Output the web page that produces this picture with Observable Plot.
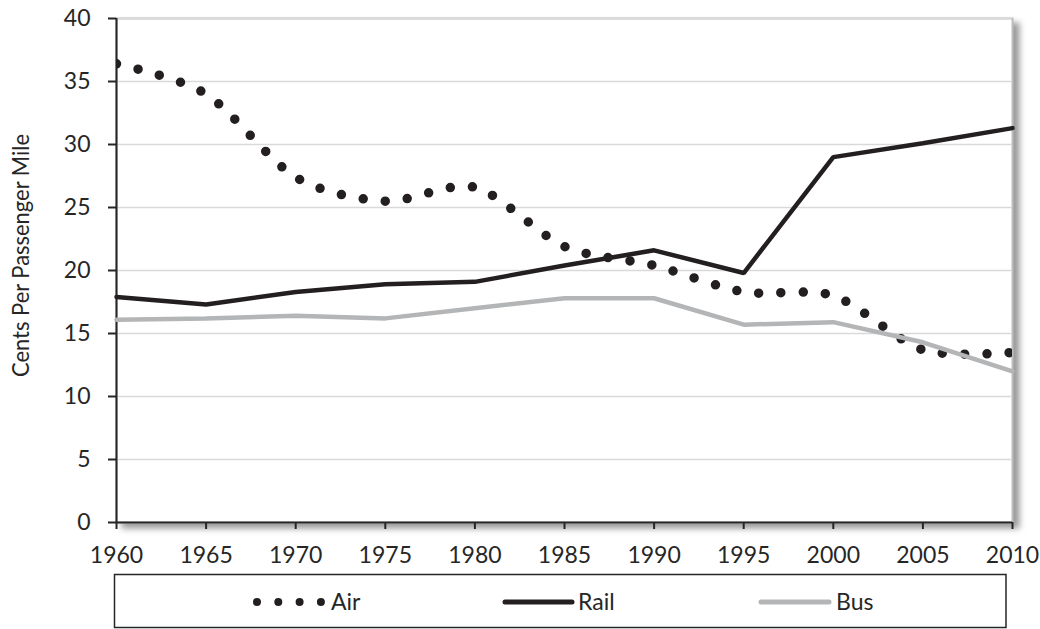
<!DOCTYPE html>
<html>
<head>
<meta charset="utf-8">
<script src="https://cdn.jsdelivr.net/npm/d3@7"></script>
<script src="https://cdn.jsdelivr.net/npm/@observablehq/plot@0.6"></script>
<style>
  body { margin: 0; background: #fff; font-family: Lato, "Open Sans", sans-serif; }
  #chart { width: 1040px; height: 629px; }
  #chart svg { display: block; }
</style>
</head>
<body>
<div id="chart"></div>
<script>
// Average cost per passenger mile (cents), by mode
const years = [1960, 1965, 1970, 1975, 1980, 1985, 1990, 1995, 2000, 2005, 2010];
const air   = [36.4, 34.0, 27.4, 25.5, 26.6, 21.9, 20.4, 18.3, 18.0, 13.7, 13.5];
const rail  = [17.9, 17.3, 18.3, 18.9, 19.1, 20.4, 21.6, 19.8, 29.0, 30.1, 31.3];
const bus   = [16.1, 16.2, 16.4, 16.2, 17.0, 17.8, 17.8, 15.7, 15.9, 14.3, 12.0];

const yTicks = [0, 5, 10, 15, 20, 25, 30, 35, 40];
const xTicks = years;
const seriesNames = ["Air", "Rail", "Bus"];
const yTitle = "Cents Per Passenger Mile";

const ink = "#231f20";
const busGray = "#b4b5b7";
const axisInk = "#262626";

const toRows = (vals) => years.map((year, i) => ({year, value: vals[i]}));
const airRows = toRows(air);
const railRows = toRows(rail);
const busRows = toRows(bus);

const plot = Plot.plot({
  width: 1040,
  height: 572,
  marginLeft: 116,
  marginRight: 28,
  marginTop: 18,
  marginBottom: 50,
  style: {fontFamily: "Lato, sans-serif", fontSize: "23px", color: axisInk, background: "transparent", overflow: "visible"},
  x: {domain: [1960, 2010]},
  y: {domain: [0, 40]},
  marks: [
    Plot.frame({fill: "white", stroke: "#bdbdbd", strokeWidth: 2}),
    Plot.gridY(yTicks, {stroke: "#d9d9d9", strokeOpacity: 1, strokeWidth: 1.5}),
    Plot.axisY(yTicks, {
      tickSize: 8, tickPadding: 18, strokeWidth: 2, stroke: axisInk,
      label: null, tickFormat: d => String(d)
    }),
    Plot.axisX(xTicks, {tickSize: 7, tickPadding: 17, strokeWidth: 2, stroke: axisInk, tickFormat: d => String(d), label: null}),
    Plot.ruleX([1960], {stroke: axisInk, strokeWidth: 2}),
    Plot.ruleY([0], {stroke: axisInk, strokeWidth: 2}),
    Plot.line(airRows, {
      x: "year", y: "value", curve: "cardinal", tension: 0.15, clip: true,
      stroke: ink, strokeWidth: 9.5, strokeLinecap: "round", strokeDasharray: "0,22.2"
    }),
    Plot.line(railRows, {x: "year", y: "value", stroke: ink, strokeWidth: 4.5, strokeLinejoin: "miter"}),
    Plot.line(busRows, {x: "year", y: "value", stroke: busGray, strokeWidth: 4.5, strokeLinejoin: "miter"})
  ]
});

// soft drop shadow behind the plotting area
d3.select(plot).select('[aria-label="frame"]')
  .style("filter", "drop-shadow(6px 5px 3px rgba(0,0,0,0.4))");

// vertical axis title
d3.select(plot).append("text")
  .attr("transform", "translate(28.5,255.5) rotate(-90)")
  .attr("text-anchor", "middle")
  .attr("font-size", 23.5)
  .attr("textLength", 243)
  .attr("lengthAdjust", "spacingAndGlyphs")
  .attr("fill", axisInk)
  .text(yTitle);

document.getElementById("chart").appendChild(plot);

// legend box below the chart
const legend = d3.create("svg")
  .attr("width", 1040)
  .attr("height", 57)
  .style("font-family", "Lato, sans-serif")
  .style("font-size", "23px");

legend.append("rect")
  .attr("x", 114.5).attr("y", 2.5)
  .attr("width", 891.5).attr("height", 53)
  .attr("fill", "white").attr("stroke", axisInk).attr("stroke-width", 1.5);

const legendItems = [
  {name: seriesNames[0], x0: 257, x1: 321.5, textX: 331, stroke: ink, width: 8, dash: "0,21.3"},
  {name: seriesNames[1], x0: 505, x1: 572, textX: 578, stroke: ink, width: 5, dash: null},
  {name: seriesNames[2], x0: 761, x1: 829, textX: 836, stroke: busGray, width: 5, dash: null}
];

const cy = 30;
for (const it of legendItems) {
  const ln = legend.append("line")
    .attr("x1", it.x0).attr("x2", it.x1)
    .attr("y1", cy).attr("y2", cy)
    .attr("stroke", it.stroke).attr("stroke-width", it.width)
    .attr("stroke-linecap", "round");
  if (it.dash) ln.attr("stroke-dasharray", it.dash);
  legend.append("text")
    .attr("x", it.textX).attr("y", cy).attr("dy", "0.35em")
    .attr("fill", axisInk)
    .text(it.name);
}

document.getElementById("chart").appendChild(legend.node());
</script>
</body>
</html>
